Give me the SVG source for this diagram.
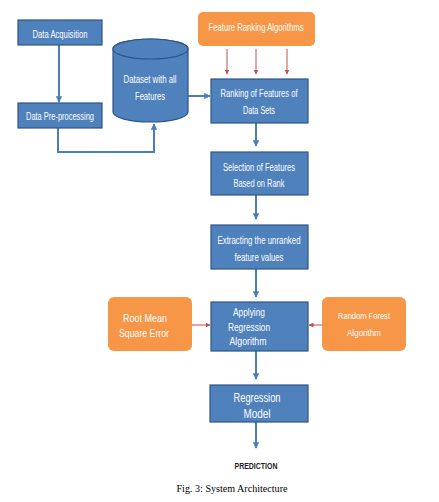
<svg xmlns="http://www.w3.org/2000/svg" width="439" height="502" viewBox="0 0 439 502">
<style>
.box{fill:#4F81BD;stroke:#2F5586;stroke-width:1.2}
.org{fill:#F79646;stroke:none}
.t{font-family:"Liberation Sans",Arial,sans-serif;font-size:10px;fill:#FFFFFF;text-anchor:middle}
.bl{fill:none;stroke:#4A7EBB;stroke-width:2}
.rd{fill:none;stroke:#C0504D;stroke-width:1}
.cap{font-family:"Liberation Serif","Times New Roman",serif;font-size:10px;fill:#000;text-anchor:middle}
.pred{font-family:"Liberation Sans",Arial,sans-serif;font-size:9.5px;font-weight:bold;fill:#222;text-anchor:middle}
</style>
<defs>
<marker id="ab" viewBox="0 0 10 10" refX="9" refY="5" markerWidth="3.2" markerHeight="3.2" orient="auto" markerUnits="strokeWidth"><path d="M0,0 L10,5 L0,10 z" fill="#4A7EBB"/></marker>
<marker id="ar" viewBox="0 0 10 10" refX="9" refY="5" markerWidth="5" markerHeight="5" orient="auto" markerUnits="strokeWidth"><path d="M0,0 L10,5 L0,10 z" fill="#C0504D"/></marker>
</defs>
<rect width="439" height="502" fill="#FFFFFF"/>
<g id="connectors">
<line class="bl" x1="59" y1="45" x2="59" y2="102" marker-end="url(#ab)"/>
<polyline class="bl" points="58,128 58,152 154,152 154,124" marker-end="url(#ab)"/>
<line class="bl" x1="188" y1="96" x2="210" y2="96" marker-end="url(#ab)"/>
<line class="rd" x1="227" y1="49" x2="227" y2="74" marker-end="url(#ar)"/>
<line class="rd" x1="256" y1="49" x2="256" y2="74" marker-end="url(#ar)"/>
<line class="rd" x1="287" y1="49" x2="287" y2="74" marker-end="url(#ar)"/>
<line class="bl" x1="256" y1="123" x2="256" y2="146" marker-end="url(#ab)"/>
<line class="bl" x1="256" y1="195" x2="256" y2="219" marker-end="url(#ab)"/>
<line class="bl" x1="256" y1="269" x2="256" y2="297" marker-end="url(#ab)"/>
<line class="rd" x1="192" y1="325" x2="210" y2="325" marker-end="url(#ar)"/>
<line class="rd" x1="322" y1="325" x2="309" y2="325" marker-end="url(#ar)"/>
<line class="bl" x1="256" y1="351" x2="256" y2="379" marker-end="url(#ab)"/>
<line class="bl" x1="256" y1="422" x2="256" y2="448" marker-end="url(#ab)"/>
</g>
<g id="data-acquisition">
<rect class="box" x="18" y="20" width="84" height="25"/>
<text class="t" x="60" y="37.5" textLength="55" lengthAdjust="spacingAndGlyphs">Data Acquisition</text>
</g>
<g id="data-preprocessing">
<rect class="box" x="18" y="103" width="84" height="25"/>
<text class="t" x="60" y="119.5" textLength="68" lengthAdjust="spacingAndGlyphs">Data Pre-processing</text>
</g>
<g id="dataset">
<path class="box" d="M113,49 L113,112 A37.5,10 0 0 0 188,112 L188,49 A37.5,10 0 0 0 113,49 Z"/>
<ellipse class="box" cx="150.5" cy="49" rx="37.5" ry="10"/>
<text class="t" x="150" y="82.5" textLength="53" lengthAdjust="spacingAndGlyphs">Dataset with all</text>
<text class="t" x="150" y="99.5" textLength="30" lengthAdjust="spacingAndGlyphs">Features</text>
</g>
<g id="feature-ranking-algorithms">
<rect class="org" x="198" y="12" width="117" height="34" rx="5"/>
<text class="t" x="256" y="30.5" textLength="95" lengthAdjust="spacingAndGlyphs">Feature Ranking Algorithms</text>
</g>
<g id="ranking">
<rect class="box" x="211" y="79" width="97" height="44"/>
<text class="t" x="259" y="96.5" textLength="77" lengthAdjust="spacingAndGlyphs">Ranking of Features of</text>
<text class="t" x="259" y="114" textLength="32" lengthAdjust="spacingAndGlyphs">Data Sets</text>
</g>
<g id="selection">
<rect class="box" x="211" y="152" width="97" height="43"/>
<text class="t" x="259" y="170.5" textLength="72" lengthAdjust="spacingAndGlyphs">Selection of Features</text>
<text class="t" x="259" y="186.5" textLength="51" lengthAdjust="spacingAndGlyphs">Based on Rank</text>
</g>
<g id="extracting">
<rect class="box" x="211" y="225" width="97" height="44"/>
<text class="t" x="259" y="243.5" textLength="83" lengthAdjust="spacingAndGlyphs">Extracting the unranked</text>
<text class="t" x="259" y="260.5" textLength="49" lengthAdjust="spacingAndGlyphs">feature values</text>
</g>
<g id="rmse">
<rect class="org" x="108" y="297" width="84" height="54" rx="6"/>
<text class="t" x="145" y="322" style="font-size:11.5px" textLength="44" lengthAdjust="spacingAndGlyphs">Root Mean</text>
<text class="t" x="144" y="337" style="font-size:11.5px" textLength="50" lengthAdjust="spacingAndGlyphs">Square Error</text>
</g>
<g id="applying">
<rect class="box" x="211" y="302" width="97" height="49"/>
<text class="t" x="249" y="316" style="font-size:11px" textLength="32" lengthAdjust="spacingAndGlyphs">Applying</text>
<text class="t" x="249" y="331" style="font-size:11px" textLength="42" lengthAdjust="spacingAndGlyphs">Regression</text>
<text class="t" x="248" y="345" style="font-size:11px" textLength="37" lengthAdjust="spacingAndGlyphs">Algorithm</text>
</g>
<g id="random-forest">
<rect class="org" x="322" y="297" width="84" height="54" rx="6"/>
<text class="t" x="364" y="318.5" style="font-size:9.5px" textLength="52" lengthAdjust="spacingAndGlyphs">Random Forest</text>
<text class="t" x="364" y="335.5" style="font-size:9.5px" textLength="34" lengthAdjust="spacingAndGlyphs">Algorithm</text>
</g>
<g id="regression-model">
<rect class="box" x="210" y="385" width="98" height="37"/>
<text class="t" x="257" y="401.5" style="font-size:12.5px" textLength="47" lengthAdjust="spacingAndGlyphs">Regression</text>
<text class="t" x="257" y="417.5" style="font-size:12.5px" textLength="27" lengthAdjust="spacingAndGlyphs">Model</text>
</g>
<g id="prediction">
<text class="pred" x="256" y="468.5" textLength="43" lengthAdjust="spacingAndGlyphs">PREDICTION</text>
</g>
<text class="cap" x="232" y="492" textLength="111" lengthAdjust="spacingAndGlyphs">Fig. 3: System Architecture</text>
</svg>
